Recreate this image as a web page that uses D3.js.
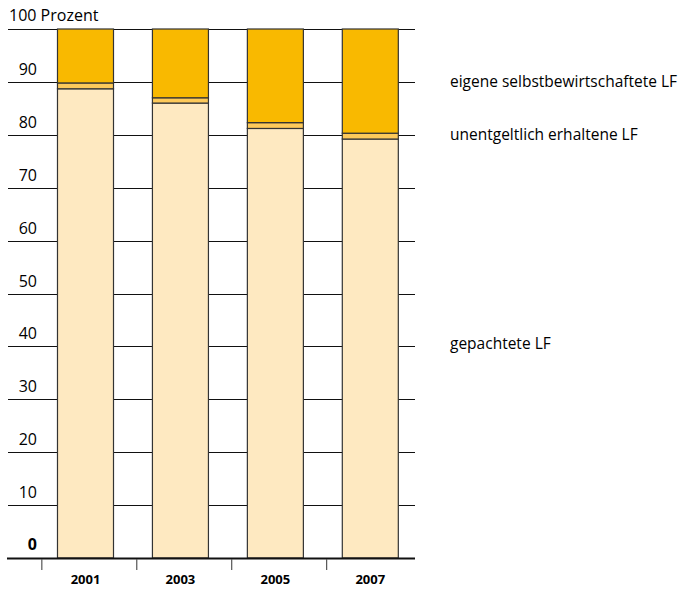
<!DOCTYPE html>
<html>
<head>
<meta charset="utf-8">
<script src="https://cdn.jsdelivr.net/npm/d3@7"></script>
<style>
  body { margin: 0; background: #fff; }
  text { font-family: "Open Sans", sans-serif; fill: #000; }
</style>
</head>
<body>
<svg width="681" height="590"></svg>
<script>
const years = ['2001', '2003', '2005', '2007'];
// Anteile in Prozent, von unten nach oben
const gepachtet = [88.7, 86.0, 81.2, 79.2];
const unentgeltlich = [1.1, 1.0, 1.1, 1.1];
const eigene = [10.2, 13.0, 17.7, 19.7];
const yTicks = [0, 10, 20, 30, 40, 50, 60, 70, 80, 90];
const seriesNames = ['gepachtete LF', 'unentgeltlich erhaltene LF', 'eigene selbstbewirtschaftete LF'];
const colors = ['#fee9c1', '#fdc95a', '#f9b900'];

const svg = d3.select('svg');
const y = d3.scaleLinear().domain([0, 100]).range([558, 29]);
const x = d3.scaleBand().domain(years).range([38.5, 417.3]).paddingInner(0.41).paddingOuter(0.2);

const rows = years.map((yr, i) => ({year: yr, s0: gepachtet[i], s1: unentgeltlich[i], s2: eigene[i]}));
const stack = d3.stack().keys(['s0', 's1', 's2'])(rows);

// gridlines
svg.append('g').selectAll('line').data(yTicks.concat([100]).filter(d => d > 0))
  .join('line')
  .attr('x1', 8).attr('x2', 415)
  .attr('y1', d => Math.round(y(d)) + 0.5).attr('y2', d => Math.round(y(d)) + 0.5)
  .attr('stroke', '#111').attr('stroke-width', 1);

// bars
svg.append('g').selectAll('g').data(stack).join('g')
  .attr('fill', (d, i) => colors[i])
  .selectAll('rect').data(d => d).join('rect')
    .attr('x', d => x(d.data.year))
    .attr('width', x.bandwidth())
    .attr('y', d => y(d[1]))
    .attr('height', d => y(d[0]) - y(d[1]))
    .attr('stroke', '#333').attr('stroke-width', 1.2);

// baseline + ticks
svg.append('line').attr('x1', 7).attr('x2', 415).attr('y1', 558.5).attr('y2', 558.5)
  .attr('stroke', '#111').attr('stroke-width', 2);
const tickOff = x.step() * 0.46;
svg.append('g').selectAll('line').data(years).join('line')
  .attr('x1', d => x(d) + x.bandwidth() / 2 - tickOff)
  .attr('x2', d => x(d) + x.bandwidth() / 2 - tickOff)
  .attr('y1', 559).attr('y2', 570)
  .attr('stroke', '#555').attr('stroke-width', 1.2);

// year labels
svg.append('g').selectAll('text').data(years).join('text')
  .attr('x', d => x(d) + x.bandwidth() / 2)
  .attr('y', 584)
  .attr('text-anchor', 'middle')
  .attr('font-weight', 'bold')
  .attr('font-size', 13)
  .text(d => d);

// y labels
svg.append('g').selectAll('text').data(yTicks).join('text')
  .attr('x', 37)
  .attr('y', d => y(d) + (d === 0 ? -8 : -7))
  .attr('text-anchor', 'end')
  .attr('font-size', 16)
  .attr('font-weight', d => d === 0 ? 'bold' : 'normal')
  .text(d => d);
svg.append('text').attr('x', 9).attr('y', 21).attr('font-size', 16).text('100 Prozent');

// series labels
const labelY = [344, 135, 82];
svg.append('g').selectAll('text').data(seriesNames).join('text')
  .attr('x', 450)
  .attr('y', (d, i) => labelY[i] + 5)
  .attr('font-size', 15.5)
  .text(d => d);
</script>
</body>
</html>
